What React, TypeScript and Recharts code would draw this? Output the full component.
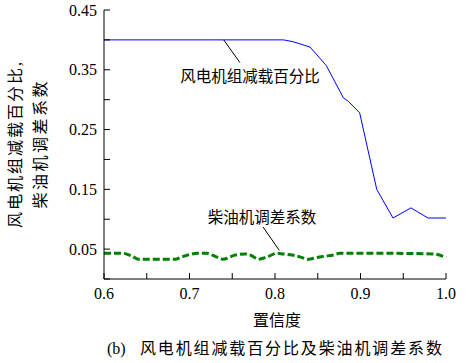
import { LineChart, Line, XAxis, YAxis, ReferenceLine, ReferenceDot } from "recharts";

// 风电机组减载百分比 (blue)
const windConf = [0.6, 0.81, 0.821, 0.841, 0.86, 0.88, 0.886, 0.899, 0.919, 0.938, 0.959, 0.979, 1.0];
const windShed = [0.4, 0.4, 0.397, 0.388, 0.357, 0.303, 0.297, 0.278, 0.15, 0.102, 0.119, 0.102, 0.102];

// 柴油机调差系数 (green dashed)
const dieselConf = [
  0.6, 0.622, 0.633, 0.64, 0.683, 0.691, 0.7, 0.709, 0.72, 0.73, 0.739, 0.753, 0.765, 0.774, 0.78,
  0.791, 0.802, 0.809, 0.82, 0.829, 0.839, 0.849, 0.858, 0.868, 0.876, 0.93, 0.985, 1.0,
];
const dieselDroop = [
  0.043, 0.043, 0.038, 0.033, 0.033, 0.037, 0.041, 0.043, 0.043, 0.038, 0.033, 0.04, 0.042, 0.038, 0.033,
  0.037, 0.043, 0.042, 0.04, 0.037, 0.033, 0.036, 0.038, 0.04, 0.043, 0.043, 0.042, 0.036,
];

const xTicks = [0.6, 0.65, 0.7, 0.75, 0.8, 0.85, 0.9, 0.95, 1.0];
const xTickLabels = ["0.6", "", "0.7", "", "0.8", "", "0.9", "", "1.0"];
const yTicks = [0, 0.05, 0.1, 0.15, 0.2, 0.25, 0.3, 0.35, 0.4, 0.45];
const yTickLabels = ["", "0.05", "", "0.15", "", "0.25", "", "0.35", "", "0.45"];

const windData = windConf.map((x, i) => ({ x, y: windShed[i] }));
const dieselData = dieselConf.map((x, i) => ({ x, y: dieselDroop[i] }));

const cjk = "'Liberation Serif', 'Noto Sans CJK SC', sans-serif";
const TICK = 6;

function LeftTick({ x, y, index }: any) {
  const label = yTickLabels[index];
  return (
    <g>
      <line x1={x} y1={y} x2={x + TICK} y2={y} stroke="#000" />
      {label && (
        <text x={x - 7} y={y} dy="0.35em" textAnchor="end" fontFamily="Liberation Serif" fontSize={16} fill="#000">
          {label}
        </text>
      )}
    </g>
  );
}

function RightTick({ x, y }: any) {
  return <line x1={x} y1={y} x2={x - TICK} y2={y} stroke="#000" />;
}

function BottomTick({ x, y, index }: any) {
  const label = xTickLabels[index];
  return (
    <g>
      <line x1={x} y1={y} x2={x} y2={y - TICK} stroke="#000" />
      {label && (
        <text x={x} y={y + 14} dy="0.35em" textAnchor="middle" fontFamily="Liberation Serif" fontSize={16} fill="#000">
          {label}
        </text>
      )}
    </g>
  );
}

function TopTick({ x, y }: any) {
  return <line x1={x} y1={y} x2={x} y2={y + TICK} stroke="#000" />;
}

function YTitle() {
  return (
    <g style={{ fontFamily: cjk, fontSize: 16, fill: "#000" }}>
      <text
        transform="translate(15,145) rotate(-90)"
        dy="0.35em"
        textAnchor="middle"
        textLength={166}
        lengthAdjust="spacing"
      >
        风电机组减载百分比,
      </text>
      <text
        transform="translate(40,145) rotate(-90)"
        dy="0.35em"
        textAnchor="middle"
        textLength={127}
        lengthAdjust="spacing"
      >
        柴油机调差系数
      </text>
    </g>
  );
}

function XTitle() {
  return (
    <g style={{ fontFamily: cjk, fontSize: 16, fill: "#000" }}>
      <text x={277} y={320} dy="0.35em" textAnchor="middle">
        置信度
      </text>
      <text x={107} y={348} dy="0.35em" textAnchor="start">
        (b)
      </text>
      <text x={140} y={348} dy="0.35em" textAnchor="start" textLength={302} lengthAdjust="spacing">
        风电机组减载百分比及柴油机调差系数
      </text>
    </g>
  );
}

export default function App() {
  return (
    <div style={{ position: "absolute", left: 0, top: 0, background: "#fff" }}>
      <LineChart width={472} height={363} margin={{ top: 10, right: 26, bottom: 0, left: 0 }}>
        <XAxis
          type="number"
          dataKey="x"
          domain={[0.6, 1.0]}
          ticks={xTicks}
          interval={0}
          height={84}
          tickSize={0}
          tickMargin={0}
          tickLine={false}
          axisLine={{ stroke: "#000" }}
          tick={<BottomTick />}
          label={{ content: () => <XTitle /> }}
        />
        <XAxis
          xAxisId="top"
          orientation="top"
          type="number"
          dataKey="x"
          domain={[0.6, 1.0]}
          ticks={xTicks}
          interval={0}
          height={0}
          tickSize={0}
          tickMargin={0}
          tickLine={false}
          axisLine={{ stroke: "#000" }}
          tick={<TopTick />}
        />
        <YAxis
          type="number"
          domain={[0, 0.45]}
          ticks={yTicks}
          interval={0}
          width={104}
          tickSize={0}
          tickMargin={0}
          tickLine={false}
          axisLine={{ stroke: "#000" }}
          tick={<LeftTick />}
          label={{ content: () => <YTitle /> }}
        />
        <YAxis
          yAxisId="r"
          orientation="right"
          type="number"
          domain={[0, 0.45]}
          ticks={yTicks}
          interval={0}
          width={0}
          tickSize={0}
          tickMargin={0}
          tickLine={false}
          axisLine={{ stroke: "#000" }}
          tick={<RightTick />}
        />
        <Line
          data={windData}
          dataKey="y"
          type="linear"
          stroke="#0000ff"
          strokeWidth={1}
          dot={false}
          isAnimationActive={false}
        />
        <Line
          data={dieselData}
          dataKey="y"
          type="monotone"
          stroke="#008000"
          strokeWidth={3}
          strokeDasharray="7 3"
          dot={false}
          isAnimationActive={false}
        />
        <ReferenceLine
          segment={[
            { x: 0.74, y: 0.4 },
            { x: 0.759, y: 0.362 },
          ]}
          stroke="#000"
          strokeWidth={1}
        />
        <ReferenceDot
          x={0.7708}
          y={0.3383}
          r={0}
          fill="none"
          stroke="none"
          label={{ value: "风电机组减载百分比", position: "center", fontFamily: cjk, fontSize: 15.5, fill: "#000" }}
        />
        <ReferenceLine
          segment={[
            { x: 0.786, y: 0.087 },
            { x: 0.805, y: 0.048 },
          ]}
          stroke="#000"
          strokeWidth={1}
        />
        <ReferenceDot
          x={0.7848}
          y={0.1033}
          r={0}
          fill="none"
          stroke="none"
          label={{ value: "柴油机调差系数", position: "center", fontFamily: cjk, fontSize: 15.5, fill: "#000" }}
        />
      </LineChart>
    </div>
  );
}
